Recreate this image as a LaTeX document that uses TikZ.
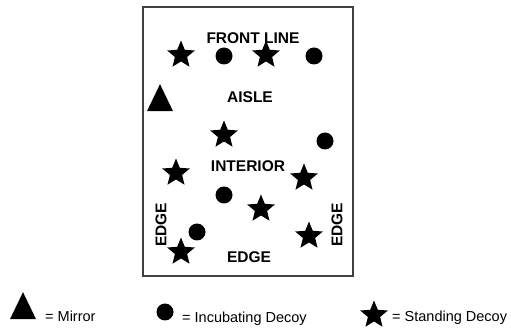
\documentclass[tikz,border=0pt]{standalone}
\usepackage{fontspec}
\setmainfont{Liberation Sans}
\usetikzlibrary{shapes.geometric}

\begin{document}
\begin{tikzpicture}[
		x=1pt, y=-1pt,
		zone/.style={font=\fontsize{15.5}{17}\selectfont\bfseries, inner sep=0},
		standing/.style={star, star points=5, star point ratio=2.25, fill=black, inner sep=0, minimum size=29pt},
		incubating/.style={circle, fill=black, inner sep=0, minimum size=17pt},
		mirror/.style={isosceles triangle, shape border rotate=90, isosceles triangle stretches, fill=black, inner sep=0, minimum width=26pt, minimum height=27pt},
		legend/.style={anchor=base west, font=\fontsize{14.5}{16}\selectfont, inner sep=0}
	]
	\useasboundingbox (0,0) rectangle (511,328);

	% Field
	\draw[line width=1.3pt, black!75] (143,7) rectangle (353,276);

	% Zone labels
	\node (front) [zone] at (253,38) {FRONT LINE};
	\node (aisle) [zone] at (250,97) {AISLE};
	\node (interior) [zone] at (248,166) {INTERIOR};
	\node (edgeleft) [zone, rotate=90] at (161,225) {EDGE};
	\node (edgebottom) [zone] at (249,257) {EDGE};
	\node (edgeright) [zone, rotate=90] at (337,225) {EDGE};

	% Decoys
	\node (mirror1) [mirror] at (160,103) {};
	\node (stand1) [standing] at (181,55) {};
	\node (stand2) [standing] at (266,55) {};
	\node (stand3) [standing] at (224,135) {};
	\node (stand4) [standing] at (176,173) {};
	\node (stand5) [standing] at (304,178) {};
	\node (stand6) [standing] at (261,209) {};
	\node (stand7) [standing] at (181,252) {};
	\node (stand8) [standing] at (309,236) {};
	\node (incub1) [incubating] at (224,56) {};
	\node (incub2) [incubating] at (314,56) {};
	\node (incub3) [incubating] at (325,141) {};
	\node (incub4) [incubating] at (224,195) {};
	\node (incub5) [incubating] at (197,232) {};

	% Legend
	\node (keymirror) [mirror] at (23,311) {};
	\node (keyincub) [incubating] at (165,312) {};
	\node (keystand) [standing] at (374,315) {};
	\node (txtmirror) [legend] at (45,322) {= Mirror};
	\node (txtincub) [legend] at (182,323) {= Incubating Decoy};
	\node (txtstand) [legend] at (392,322) {= Standing Decoy};
\end{tikzpicture}
\end{document}
